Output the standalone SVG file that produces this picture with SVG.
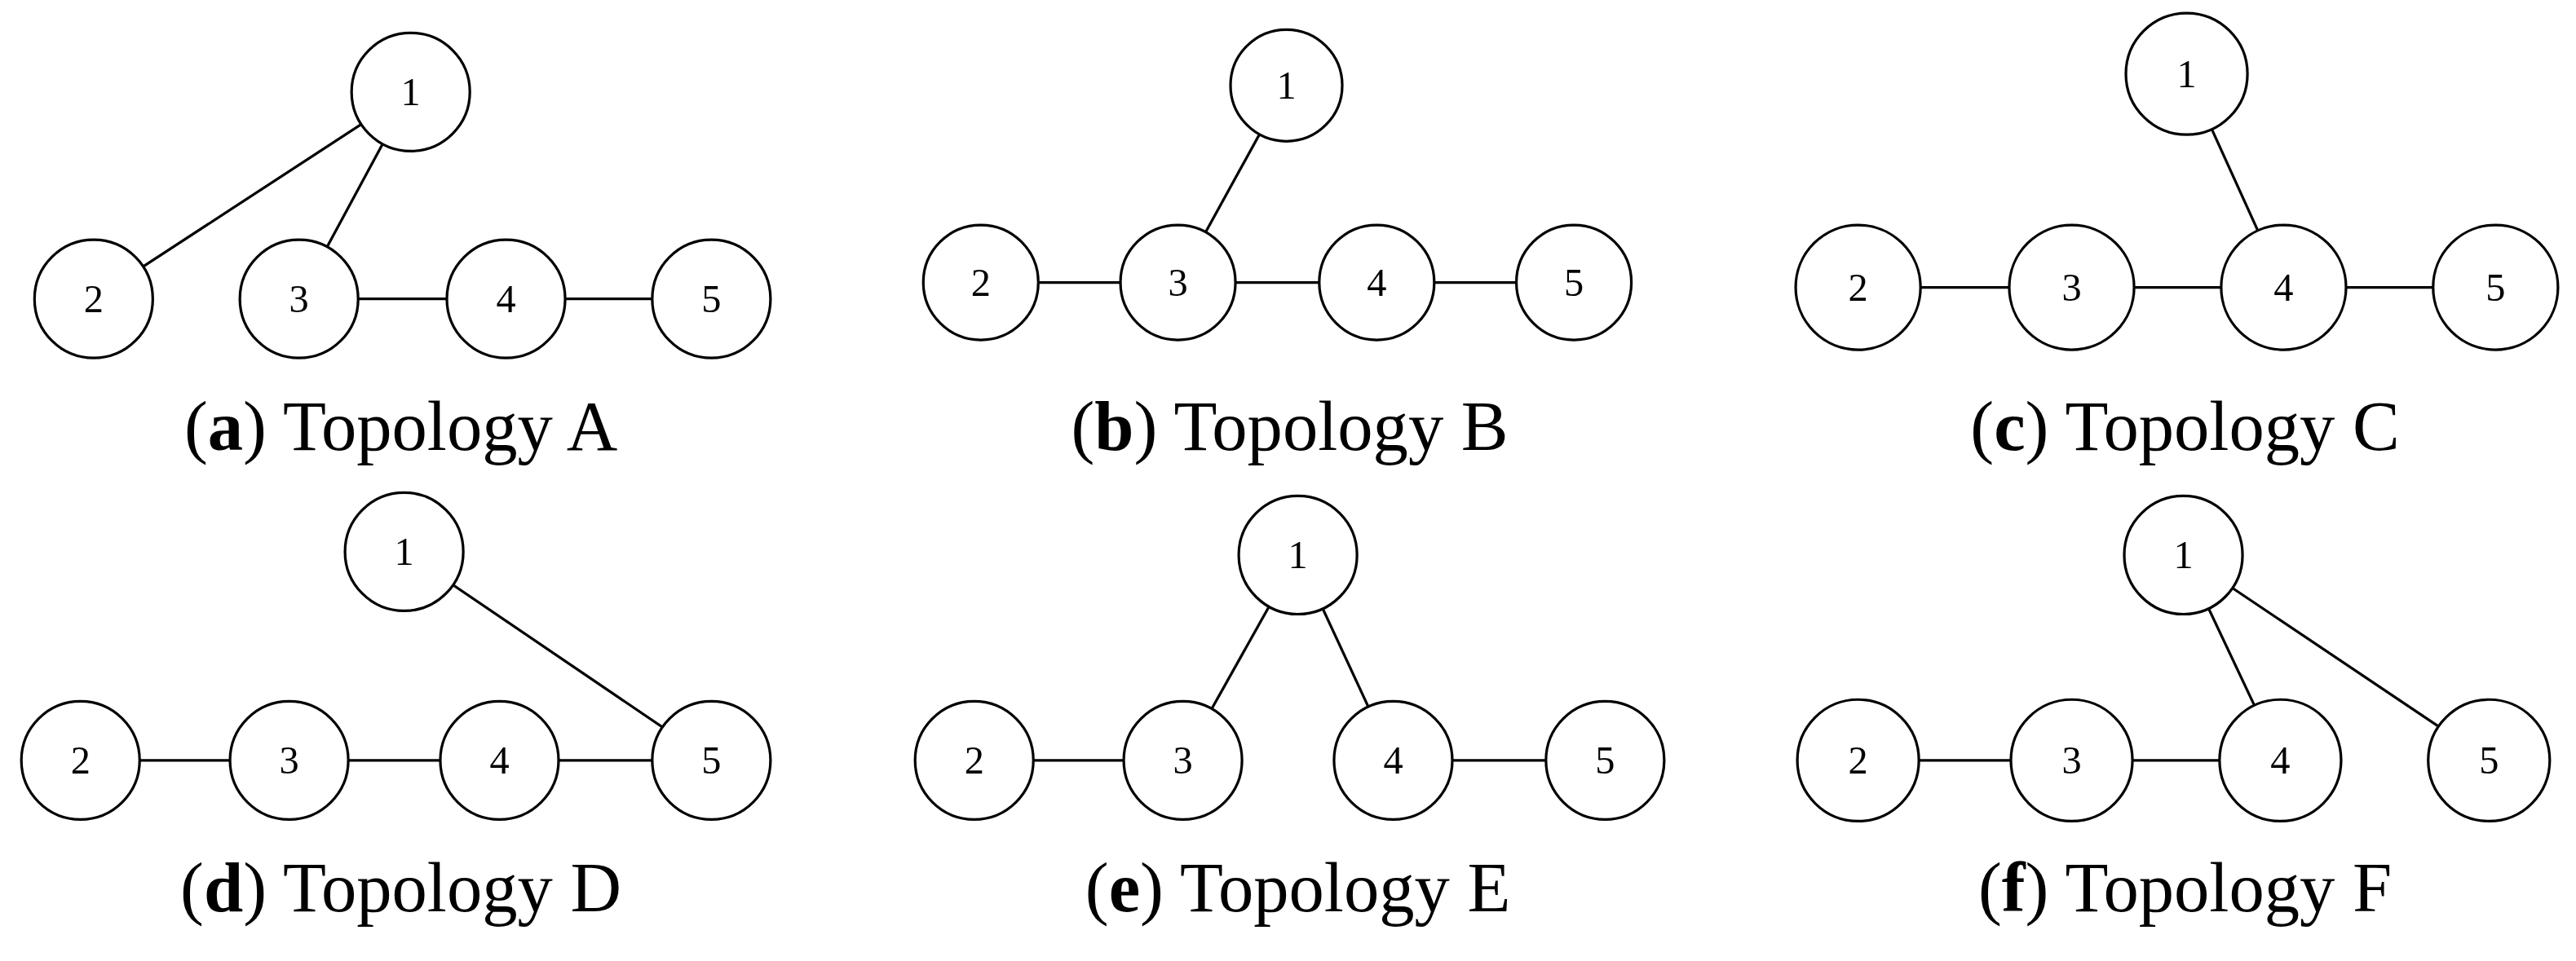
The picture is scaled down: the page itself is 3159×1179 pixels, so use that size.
<svg xmlns="http://www.w3.org/2000/svg" width="3159" height="1179" viewBox="0 0 3159 1179">
<style>
.e{stroke:#000;stroke-width:1.6;fill:none}
.n circle{fill:#fff;stroke:#000;stroke-width:1.6}
.n text{font-family:"Liberation Serif",serif;font-size:24px;text-anchor:middle}
.cap{font-family:"Liberation Serif",serif;font-size:43px;text-anchor:middle}
</style>
<rect width="3159" height="1179" fill="#fff"/>
<g transform="scale(2.0147)">
<g id="connectors">
<line class="e" x1="250" y1="56" x2="57" y2="182"/><line class="e" x1="250" y1="56" x2="182" y2="182"/><line class="e" x1="182" y1="182" x2="433" y2="182"/>
<line class="e" x1="783" y1="52" x2="717" y2="172"/><line class="e" x1="597" y1="172" x2="958" y2="172"/>
<line class="e" x1="1331" y1="45" x2="1390" y2="175"/><line class="e" x1="1131" y1="175" x2="1519" y2="175"/>
<line class="e" x1="246" y1="336" x2="433" y2="463"/><line class="e" x1="49" y1="463" x2="433" y2="463"/>
<line class="e" x1="790" y1="338" x2="720" y2="463"/><line class="e" x1="790" y1="338" x2="848" y2="463"/><line class="e" x1="593" y1="463" x2="720" y2="463"/><line class="e" x1="848" y1="463" x2="977" y2="463"/>
<line class="e" x1="1329" y1="338" x2="1388" y2="463"/><line class="e" x1="1329" y1="338" x2="1515" y2="463"/><line class="e" x1="1131" y1="463" x2="1388" y2="463"/>
</g>
<g id="a1" class="n"><circle cx="250" cy="56" r="36"/><text x="250" y="64">1</text></g>
<g id="a2" class="n"><circle cx="57" cy="182" r="36"/><text x="57" y="190">2</text></g>
<g id="a3" class="n"><circle cx="182" cy="182" r="36"/><text x="182" y="190">3</text></g>
<g id="a4" class="n"><circle cx="308" cy="182" r="36"/><text x="308" y="190">4</text></g>
<g id="a5" class="n"><circle cx="433" cy="182" r="36"/><text x="433" y="190">5</text></g>
<g id="b1" class="n"><circle cx="783" cy="52" r="34"/><text x="783" y="60">1</text></g>
<g id="b2" class="n"><circle cx="597" cy="172" r="35"/><text x="597" y="180">2</text></g>
<g id="b3" class="n"><circle cx="717" cy="172" r="35"/><text x="717" y="180">3</text></g>
<g id="b4" class="n"><circle cx="838" cy="172" r="35"/><text x="838" y="180">4</text></g>
<g id="b5" class="n"><circle cx="958" cy="172" r="35"/><text x="958" y="180">5</text></g>
<g id="c1" class="n"><circle cx="1331" cy="45" r="37"/><text x="1331" y="53">1</text></g>
<g id="c2" class="n"><circle cx="1131" cy="175" r="38"/><text x="1131" y="183">2</text></g>
<g id="c3" class="n"><circle cx="1261" cy="175" r="38"/><text x="1261" y="183">3</text></g>
<g id="c4" class="n"><circle cx="1390" cy="175" r="38"/><text x="1390" y="183">4</text></g>
<g id="c5" class="n"><circle cx="1519" cy="175" r="38"/><text x="1519" y="183">5</text></g>
<g id="d1" class="n"><circle cx="246" cy="336" r="36"/><text x="246" y="344">1</text></g>
<g id="d2" class="n"><circle cx="49" cy="463" r="36"/><text x="49" y="471">2</text></g>
<g id="d3" class="n"><circle cx="176" cy="463" r="36"/><text x="176" y="471">3</text></g>
<g id="d4" class="n"><circle cx="304" cy="463" r="36"/><text x="304" y="471">4</text></g>
<g id="d5" class="n"><circle cx="433" cy="463" r="36"/><text x="433" y="471">5</text></g>
<g id="e1" class="n"><circle cx="790" cy="338" r="36"/><text x="790" y="346">1</text></g>
<g id="e2" class="n"><circle cx="593" cy="463" r="36"/><text x="593" y="471">2</text></g>
<g id="e3" class="n"><circle cx="720" cy="463" r="36"/><text x="720" y="471">3</text></g>
<g id="e4" class="n"><circle cx="848" cy="463" r="36"/><text x="848" y="471">4</text></g>
<g id="e5" class="n"><circle cx="977" cy="463" r="36"/><text x="977" y="471">5</text></g>
<g id="f1" class="n"><circle cx="1329" cy="338" r="36"/><text x="1329" y="346">1</text></g>
<g id="f2" class="n"><circle cx="1131" cy="463" r="37"/><text x="1131" y="471">2</text></g>
<g id="f3" class="n"><circle cx="1261" cy="463" r="37"/><text x="1261" y="471">3</text></g>
<g id="f4" class="n"><circle cx="1388" cy="463" r="37"/><text x="1388" y="471">4</text></g>
<g id="f5" class="n"><circle cx="1515" cy="463" r="37"/><text x="1515" y="471">5</text></g>
<text class="cap" x="244" y="274">(<tspan font-weight="bold">a</tspan>) Topology A</text>
<text class="cap" x="785" y="274">(<tspan font-weight="bold">b</tspan>) Topology B</text>
<text class="cap" x="1330" y="274">(<tspan font-weight="bold">c</tspan>) Topology C</text>
<text class="cap" x="244" y="555">(<tspan font-weight="bold">d</tspan>) Topology D</text>
<text class="cap" x="790" y="555">(<tspan font-weight="bold">e</tspan>) Topology E</text>
<text class="cap" x="1330" y="555">(<tspan font-weight="bold">f</tspan>) Topology F</text>
</g>
</svg>
